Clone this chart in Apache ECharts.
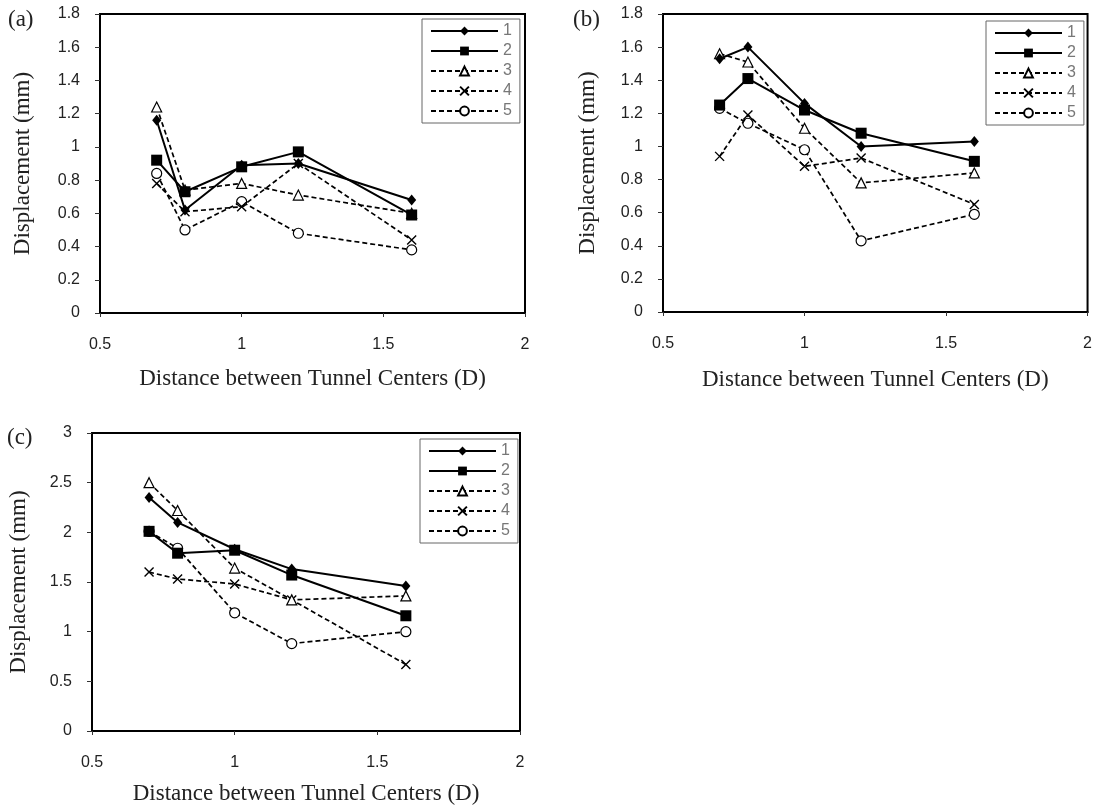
<!DOCTYPE html>
<html>
<head>
<meta charset="utf-8">
<script src="https://cdn.jsdelivr.net/npm/echarts@6/dist/echarts.min.js"></script>
<style>
  html, body { margin: 0; padding: 0; background: #fff; }
  #chart { width: 1095px; height: 808px; }
</style>
</head>
<body>
<div id="chart"></div>
<script>
// ---- Data ----
const xValues = [0.7, 0.8, 1.0, 1.2, 1.6];
const seriesNames = ['1', '2', '3', '4', '5'];
const panelLabels = ['(a)', '(b)', '(c)'];
const xTicks = { min: 0.5, max: 2, interval: 0.5 };
const yTicksAB = { min: 0, max: 1.8, interval: 0.2 };
const yTicksC = { min: 0, max: 3, interval: 0.5 };
const xTitle = 'Distance between Tunnel Centers (D)';
const yTitle = 'Displacement (mm)';

// Panel (a)
const a1 = [1.16, 0.62, 0.89, 0.90, 0.68];
const a2 = [0.92, 0.73, 0.88, 0.97, 0.59];
const a3 = [1.24, 0.74, 0.78, 0.71, 0.60];
const a4 = [0.78, 0.61, 0.64, 0.90, 0.44];
const a5 = [0.84, 0.50, 0.67, 0.48, 0.38];
// Panel (b)
const b1 = [1.53, 1.60, 1.26, 1.00, 1.03];
const b2 = [1.25, 1.41, 1.22, 1.08, 0.91];
const b3 = [1.56, 1.51, 1.11, 0.78, 0.84];
const b4 = [0.94, 1.19, 0.88, 0.93, 0.65];
const b5 = [1.23, 1.14, 0.98, 0.43, 0.59];
// Panel (c)
const c1 = [2.35, 2.10, 1.83, 1.63, 1.46];
const c2 = [2.01, 1.79, 1.82, 1.57, 1.16];
const c3 = [2.50, 2.22, 1.64, 1.32, 1.36];
const c4 = [1.60, 1.53, 1.48, 1.32, 0.67];
const c5 = [2.01, 1.84, 1.19, 0.88, 1.00];

const panelData = [[a1, a2, a3, a4, a5], [b1, b2, b3, b4, b5], [c1, c2, c3, c4, c5]];

// ---- Styles ----
const styles = [
  { symbol: 'diamond', symbolSize: [9, 11], itemStyle: { color: '#000', borderColor: '#000', borderWidth: 0 }, lineStyle: { color: '#000', width: 2, type: 'solid' } },
  { symbol: 'rect', symbolSize: 11, itemStyle: { color: '#000', borderColor: '#000', borderWidth: 0 }, lineStyle: { color: '#000', width: 2, type: 'solid' } },
  { symbol: 'triangle', symbolSize: 10, itemStyle: { color: '#fff', borderColor: '#000', borderWidth: 1.2 }, lineStyle: { color: '#000', width: 1.7, type: [5, 3] } },
  { symbol: 'path://M0,0L10,10M10,0L0,10', symbolSize: 9, itemStyle: { color: '#000', borderColor: '#000', borderWidth: 1.4 }, lineStyle: { color: '#000', width: 1.7, type: [5, 3] } },
  { symbol: 'circle', symbolSize: 10, itemStyle: { color: '#fff', borderColor: '#000', borderWidth: 1.2 }, lineStyle: { color: '#000', width: 1.7, type: [5, 3] } }
];

const grids = [
  { left: 100, top: 14, width: 425, height: 299 },
  { left: 663, top: 14, width: 425, height: 298 },
  { left: 92, top: 433, width: 428, height: 298 }
];
const legendPos = [
  { left: 422, top: 19 },
  { left: 986, top: 21 },
  { left: 420, top: 439 }
];
const yNameGaps = [66, 64, 62];
const xNameGaps = [54, 56, 51];
const labelPos = [
  { x: 8, y: 8 }, { x: 573, y: 8 }, { x: 7, y: 426 }
];

const tickFont = { fontFamily: 'Liberation Sans', fontSize: 16, color: '#222' };
const titleFont = { fontFamily: 'Liberation Serif', fontSize: 23, color: '#222' };

const option = {
  backgroundColor: '#fff',
  animation: false,
  grid: grids.map(g => Object.assign({ show: true, borderColor: '#000', borderWidth: 2, backgroundColor: 'transparent' }, g)),
  xAxis: grids.map((g, i) => ({
    type: 'value', gridIndex: i,
    min: xTicks.min, max: xTicks.max, interval: xTicks.interval,
    name: xTitle, nameLocation: 'middle', nameGap: xNameGaps[i], nameTextStyle: titleFont,
    axisLine: { show: true, lineStyle: { color: '#000', width: 2 } },
    axisTick: { show: true, inside: false, length: 4, lineStyle: { color: '#333', width: 1 } },
    axisLabel: Object.assign({ margin: 24 }, tickFont),
    splitLine: { show: false }
  })),
  yAxis: grids.map((g, i) => {
    const t = i === 2 ? yTicksC : yTicksAB;
    return {
      type: 'value', gridIndex: i,
      min: t.min, max: t.max, interval: t.interval,
      name: yTitle, nameLocation: 'middle', nameRotate: 90, nameGap: yNameGaps[i], nameTextStyle: titleFont,
      axisLine: { show: true, lineStyle: { color: '#000', width: 2 } },
      axisTick: { show: true, inside: false, length: 5, lineStyle: { color: '#333', width: 1 } },
      axisLabel: Object.assign({ margin: 20 }, tickFont),
      splitLine: { show: false }
    };
  }),
  legend: legendPos.map((p, i) => ({
    orient: 'vertical', left: p.left, top: p.top,
    data: seriesNames,
    itemWidth: 67, itemHeight: 11, itemGap: 4,
    padding: [4, 8, 4, 8],
    borderColor: '#666', borderWidth: 1, backgroundColor: '#fff',
    selectedMode: false,
    textStyle: { fontFamily: 'Liberation Sans', fontSize: 16, lineHeight: 15, color: '#777', padding: [0, 0, 0, 0] }
  })),
  graphic: labelPos.map((p, i) => ({
    type: 'text', left: p.x, top: p.y,
    style: { text: panelLabels[i], font: '23px "Liberation Serif"', fill: '#222' }
  })),
  series: []
};

panelData.forEach((panel, pi) => {
  panel.forEach((vals, si) => {
    const st = styles[si];
    option.series.push({
      type: 'line', name: seriesNames[si],
      xAxisIndex: pi, yAxisIndex: pi,
      data: xValues.map((x, k) => [x, vals[k]]),
      symbol: st.symbol, symbolSize: st.symbolSize, showSymbol: true,
      itemStyle: st.itemStyle, lineStyle: st.lineStyle,
      z: 10 - si,
      emphasis: { disabled: true }
    });
  });
});

const chart = echarts.init(document.getElementById('chart'), null, { renderer: 'canvas' });
chart.setOption(option);
</script>
</body>
</html>
